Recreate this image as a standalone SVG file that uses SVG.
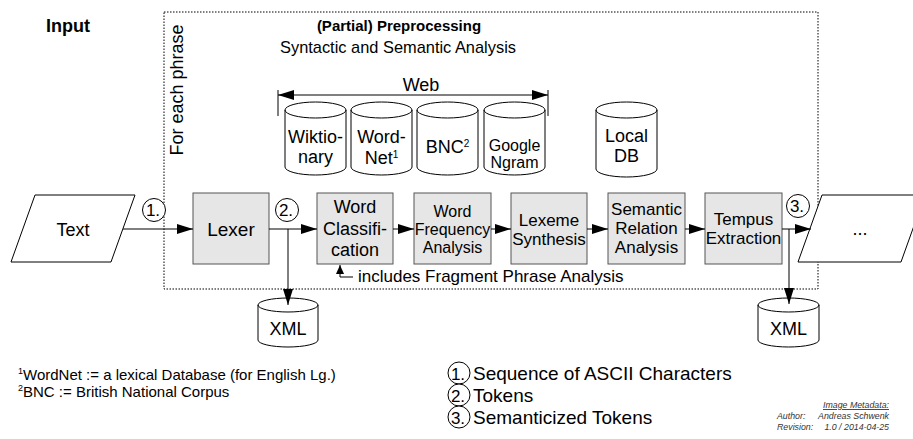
<svg xmlns="http://www.w3.org/2000/svg" width="913" height="439" viewBox="0 0 913 439">
  <defs>
    <style>
      text { font-family: "Liberation Sans", Arial, sans-serif; fill: #000; }
      .t18 { font-size: 18px; }
      .t17 { font-size: 17px; }
      .t16 { font-size: 16px; }
      .mid { text-anchor: middle; }
      .bold { font-weight: bold; }
      .proc { fill: #e6e6e6; stroke: #555; stroke-width: 1; }
      .db { fill: #fff; stroke: #000; stroke-width: 1; }
      .io { fill: #fff; stroke: #000; stroke-width: 1; }
      .wire { fill: none; stroke: #000; stroke-width: 1; }
      .tag { fill: #fff; stroke: #000; stroke-width: 1; }
      .meta { font-size: 8.8px; font-style: italic; fill: #333; }
    </style>
    <marker id="arrow" markerUnits="userSpaceOnUse" markerWidth="16" markerHeight="10" refX="16" refY="5" orient="auto">
      <path d="M0,0 L16,5 L0,10 Z" fill="#000"/>
    </marker>
    <marker id="arrowSmall" markerUnits="userSpaceOnUse" markerWidth="9" markerHeight="8" refX="9" refY="4" orient="auto">
      <path d="M0,0 L9,4 L0,8 Z" fill="#000"/>
    </marker>
  </defs>

  <rect width="913" height="439" fill="#fff"/>

  <!-- phrase loop frame -->
  <g id="phrase-frame">
    <rect x="164" y="12" width="654" height="277" fill="none" stroke="#000" stroke-width="1" stroke-dasharray="1.5,1.5"/>
    <text class="t18" transform="translate(183,90) rotate(-90)" text-anchor="middle">For each phrase</text>
  </g>

  <g id="titles">
    <text x="68" y="32" class="bold mid" font-size="18">Input</text>
    <text x="399" y="31" class="bold mid" font-size="15">(Partial) Preprocessing</text>
    <text x="398" y="53" class="mid" font-size="16.4">Syntactic and Semantic Analysis</text>
  </g>

  <!-- web resources bracket -->
  <g id="web">
    <line x1="278" y1="90" x2="278" y2="116" class="wire"/>
    <line x1="548" y1="90" x2="548" y2="116" class="wire"/>
    <line x1="413" y1="95" x2="278" y2="95" class="wire" marker-end="url(#arrow)"/>
    <line x1="413" y1="95" x2="548" y2="95" class="wire" marker-end="url(#arrow)"/>
    <text x="421" y="91" class="t18 mid">Web</text>
  </g>

  <g id="wiktionary">
    <path class="db" d="M285,110 L285,167 A30.5,8 0 0 0 346,167 L346,110 A30.5,8 0 0 0 285,110 Z"/>
    <path class="wire" d="M285,110 A30.5,8 0 0 0 346,110"/>
    <text x="315.5" y="143" class="t18 mid">Wiktio-</text>
    <text x="315.5" y="163" class="t18 mid">nary</text>
  </g>

  <g id="wordnet">
    <path class="db" d="M351,110 L351,167 A30.5,8 0 0 0 412,167 L412,110 A30.5,8 0 0 0 351,110 Z"/>
    <path class="wire" d="M351,110 A30.5,8 0 0 0 412,110"/>
    <text x="381.5" y="143" class="t18 mid">Word-</text>
    <text x="381.5" y="164" class="t18 mid">Net<tspan font-size="10" dy="-6">1</tspan></text>
  </g>

  <g id="bnc">
    <path class="db" d="M417,110 L417,167 A30.5,8 0 0 0 478,167 L478,110 A30.5,8 0 0 0 417,110 Z"/>
    <path class="wire" d="M417,110 A30.5,8 0 0 0 478,110"/>
    <text x="447.5" y="153" class="t18 mid">BNC<tspan font-size="10" dy="-6">2</tspan></text>
  </g>

  <g id="google-ngram">
    <path class="db" d="M484,110 L484,167 A30.5,8 0 0 0 545,167 L545,110 A30.5,8 0 0 0 484,110 Z"/>
    <path class="wire" d="M484,110 A30.5,8 0 0 0 545,110"/>
    <text x="514.5" y="151" class="t16 mid">Google</text>
    <text x="514.5" y="168" class="t16 mid">Ngram</text>
  </g>

  <g id="local-db">
    <path class="db" d="M596,110 L596,169 A30.5,8 0 0 0 657,169 L657,110 A30.5,8 0 0 0 596,110 Z"/>
    <path class="wire" d="M596,110 A30.5,8 0 0 0 657,110"/>
    <text x="626.5" y="142" class="t18 mid">Local</text>
    <text x="626.5" y="162" class="t18 mid">DB</text>
  </g>

  <!-- pipeline stages -->
  <g id="text-input">
    <polygon class="io" points="35,195 135,195 111,262 11,262"/>
    <text x="73" y="236" class="t18 mid">Text</text>
  </g>

  <g id="lexer">
    <rect class="proc" x="193" y="193" width="76" height="71"/>
    <text x="231" y="236" class="mid" font-size="19">Lexer</text>
  </g>

  <g id="word-classification">
    <rect class="proc" x="317" y="193" width="76" height="71"/>
    <text x="355" y="213" class="t18 mid">Word</text>
    <text x="355" y="235" class="t18 mid">Classifi-</text>
    <text x="355" y="256" class="t18 mid">cation</text>
  </g>

  <g id="word-frequency">
    <rect class="proc" x="414" y="193" width="77" height="71"/>
    <text x="452.5" y="217" class="t16 mid">Word</text>
    <text x="452.5" y="235" class="t16 mid">Frequency</text>
    <text x="452.5" y="253" class="t16 mid">Analysis</text>
  </g>

  <g id="lexeme-synthesis">
    <rect class="proc" x="511" y="193" width="76" height="71"/>
    <text x="549" y="226" class="t17 mid">Lexeme</text>
    <text x="549" y="245" class="t17 mid">Synthesis</text>
  </g>

  <g id="semantic-relation">
    <rect class="proc" x="608" y="193" width="77" height="71"/>
    <text x="646.5" y="215" class="t17 mid">Semantic</text>
    <text x="646.5" y="234" class="t17 mid">Relation</text>
    <text x="646.5" y="253" class="t17 mid">Analysis</text>
  </g>

  <g id="tempus-extraction">
    <rect class="proc" x="705" y="193" width="77" height="71"/>
    <text x="743.5" y="225" class="t17 mid">Tempus</text>
    <text x="743.5" y="244" class="t17 mid">Extraction</text>
  </g>

  <g id="output">
    <polygon class="io" points="822,195 925,195 901,262 798,262"/>
    <text x="860" y="235" class="t18 mid">...</text>
  </g>

  <g id="xml-tokens">
    <path class="db" d="M258,305 L258,340 A30,7 0 0 0 318,340 L318,305 A30,7 0 0 0 258,305 Z"/>
    <path class="wire" d="M258,305 A30,7 0 0 0 318,305"/>
    <text x="288" y="335" class="t18 mid">XML</text>
  </g>

  <g id="xml-semantic">
    <path class="db" d="M758,305 L758,340 A30.5,7 0 0 0 819,340 L819,305 A30.5,7 0 0 0 758,305 Z"/>
    <path class="wire" d="M758,305 A30.5,7 0 0 0 819,305"/>
    <text x="788.5" y="335" class="t18 mid">XML</text>
  </g>

  <!-- connectors -->
  <g id="connectors">
    <line x1="123" y1="229" x2="193" y2="229" class="wire" marker-end="url(#arrow)"/>
    <line x1="269" y1="229" x2="317" y2="229" class="wire" marker-end="url(#arrow)"/>
    <line x1="288" y1="229" x2="288" y2="305" class="wire" marker-end="url(#arrow)"/>
    <line x1="393" y1="229" x2="414" y2="229" class="wire" marker-end="url(#arrow)"/>
    <line x1="491" y1="229" x2="511" y2="229" class="wire" marker-end="url(#arrow)"/>
    <line x1="587" y1="229" x2="608" y2="229" class="wire" marker-end="url(#arrow)"/>
    <line x1="685" y1="229" x2="705" y2="229" class="wire" marker-end="url(#arrow)"/>
    <line x1="782" y1="229" x2="811" y2="229" class="wire" marker-end="url(#arrow)"/>
    <line x1="789" y1="229" x2="789" y2="304" class="wire" marker-end="url(#arrow)"/>
    <polyline points="353,277 340,277 340,265" class="wire" marker-end="url(#arrowSmall)"/>
  </g>

  <!-- data-state tags on the flow -->
  <g id="tag-1">
    <circle cx="154" cy="210" r="11.5" class="tag"/>
    <text x="153" y="216" class="t17 mid">1.</text>
  </g>
  <g id="tag-2">
    <circle cx="287" cy="210" r="11.5" class="tag"/>
    <text x="286" y="216" class="t17 mid">2.</text>
  </g>
  <g id="tag-3">
    <circle cx="798" cy="206" r="11.5" class="tag"/>
    <text x="797" y="212" class="t17 mid">3.</text>
  </g>

  <g id="fragment-note">
    <text x="358" y="282" class="t17">includes Fragment Phrase Analysis</text>
  </g>

  <g id="footnotes">
    <text x="18" y="380" font-size="15"><tspan font-size="9" dy="-6">1</tspan><tspan dy="6">WordNet := a lexical Database (for English Lg.)</tspan></text>
    <text x="18" y="397" font-size="15"><tspan font-size="9" dy="-6">2</tspan><tspan dy="6">BNC := British National Corpus</tspan></text>
  </g>

  <g id="legend">
    <circle cx="459" cy="373" r="11" class="tag"/>
    <text x="458" y="380" class="t17 mid">1.</text>
    <text x="473" y="380" font-size="19">Sequence of ASCII Characters</text>
    <circle cx="459" cy="395" r="11" class="tag"/>
    <text x="458" y="402" class="t17 mid">2.</text>
    <text x="473" y="402" font-size="19">Tokens</text>
    <circle cx="459" cy="417" r="11" class="tag"/>
    <text x="458" y="424" class="t17 mid">3.</text>
    <text x="473" y="424" font-size="19">Semanticized Tokens</text>
  </g>

  <g id="metadata">
    <text x="889" y="408" class="meta" text-anchor="end" text-decoration="underline">Image Metadata:</text>
    <text x="777" y="419" class="meta">Author:</text>
    <text x="889" y="419" class="meta" text-anchor="end">Andreas Schwenk</text>
    <text x="777" y="430" class="meta">Revision:</text>
    <text x="889" y="430" class="meta" text-anchor="end">1.0 / 2014-04-25</text>
  </g>
</svg>
